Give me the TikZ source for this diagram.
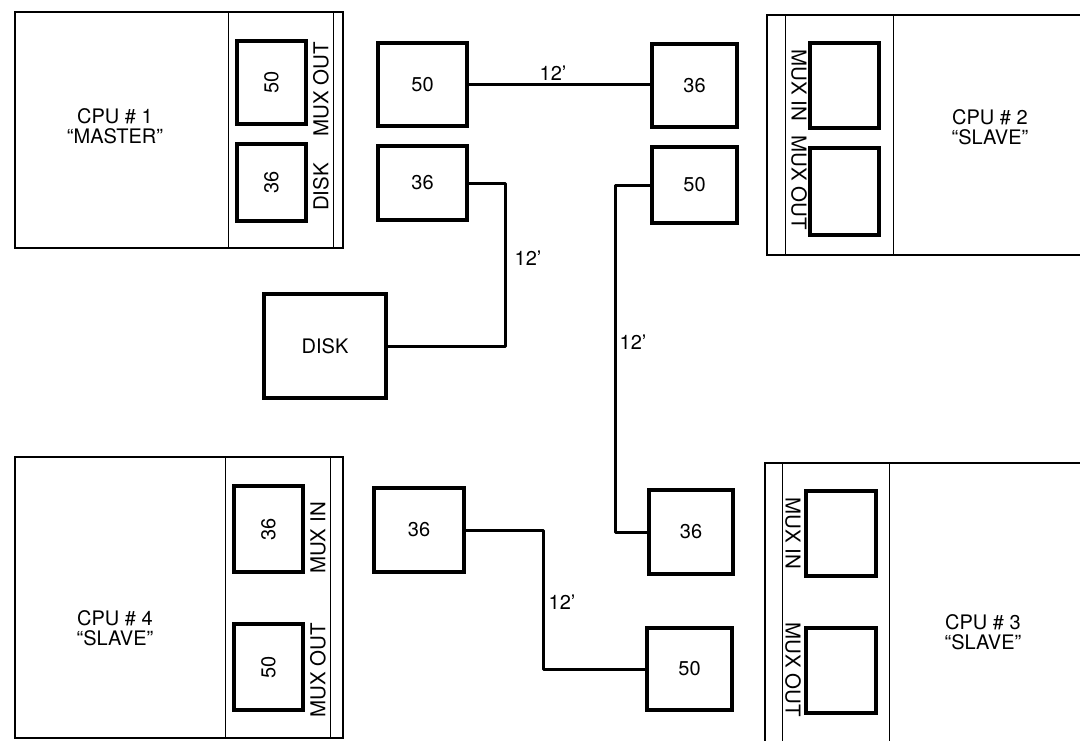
\documentclass[tikz,border=0pt]{standalone}
\usepackage{fontspec}
\setmainfont{TeX Gyre Heros}
\begin{document}
\begin{tikzpicture}[x=1pt,y=-1pt,
  every node/.style={font=\fontsize{20}{20}\selectfont, inner sep=0pt, outer sep=0pt},
  cpu/.style={draw, line width=2.4pt},
  divider/.style={line width=0.8pt},
  port/.style={draw, line width=3.4pt},
  wire/.style={line width=3pt, line join=round},
  cputext/.style={align=center, font=\fontsize{20}{20.5}\selectfont},
  plabel/.style={font=\fontsize{20.5}{20}\selectfont}]
\useasboundingbox (0,0) rectangle (1080,740);
\clip (0,0) rectangle (1080,740);

% ---------- CPU 1 ----------
\node[cpu, minimum width=328, minimum height=236] (cpu1) at (179,130) {};
\draw[divider] (228,12) -- (228,248);
\draw[divider] (333,12) -- (333,248);
\node[cputext] (t1) at (115,126) {CPU \# 1\\“MASTER”};
\node[port, minimum width=69, minimum height=83] (p1a) at (271.5,82.5) {};
\node[port, minimum width=69, minimum height=77] (p1b) at (271.5,182.5) {};
\node[rotate=90] (n1a) at (p1a) {50};
\node[rotate=90] (n1b) at (p1b) {36};
\node[plabel, rotate=90] (l1a) at (321,89) {MUX OUT};
\node[plabel, rotate=90] (l1b) at (321,187) {DISK};

% ---------- CPU 2 ----------
\node[cpu, minimum width=333, minimum height=240] (cpu2) at (933.5,135) {};
\draw[divider] (785,15) -- (785,255);
\draw[divider] (893,15) -- (893,255);
\node[cputext] (t2) at (990,127) {CPU \# 2\\“SLAVE”};
\node[port, minimum width=69, minimum height=85] (p2a) at (844.5,85.5) {};
\node[port, minimum width=69, minimum height=87] (p2b) at (844.5,191.5) {};
\node[plabel, rotate=-90] (l2a) at (799,85) {MUX IN};
\node[plabel, rotate=-90] (l2b) at (799,183) {MUX OUT};

% ---------- CPU 3 ----------
\node[cpu, minimum width=335, minimum height=297] (cpu3) at (932.5,611.5) {};
\draw[divider] (782,463) -- (782,760);
\draw[divider] (889,463) -- (889,760);
\node[cputext] (t3) at (983,632) {CPU \# 3\\“SLAVE”};
\node[port, minimum width=70, minimum height=85] (p3a) at (841,533.5) {};
\node[port, minimum width=70, minimum height=85] (p3b) at (841,670.5) {};
\node[plabel, rotate=-90] (l3a) at (793,533) {MUX IN};
\node[plabel, rotate=-90] (l3b) at (793,670) {MUX OUT};

% ---------- CPU 4 ----------
\node[cpu, minimum width=328, minimum height=281] (cpu4) at (179,597.5) {};
\draw[divider] (225,457) -- (225,738);
\draw[divider] (330,457) -- (330,738);
\node[cputext] (t4) at (115,628) {CPU \# 4\\“SLAVE”};
\node[port, minimum width=69, minimum height=86] (p4a) at (268.5,529) {};
\node[port, minimum width=69, minimum height=86] (p4b) at (268.5,667) {};
\node[rotate=90] (n4a) at (p4a) {36};
\node[rotate=90] (n4b) at (p4b) {50};
\node[plabel, rotate=90] (l4a) at (318,538) {MUX IN};
\node[plabel, rotate=90] (l4b) at (318,670) {MUX OUT};

% ---------- middle connectors ----------
\node[port, minimum width=89, minimum height=83] (m50) at (422.5,84.5) {50};
\node[port, minimum width=89, minimum height=74] (m36) at (422.5,183) {36};
\node[port, minimum width=85, minimum height=83] (r36) at (694.5,85.5) {36};
\node[port, minimum width=85, minimum height=76] (r50) at (694.5,185) {50};
\node[port, minimum width=122, minimum height=104] (disk) at (325,346) {DISK};
\node[port, minimum width=90, minimum height=84] (b36) at (419,530) {36};
\node[port, minimum width=84, minimum height=84] (l36) at (691,532) {36};
\node[port, minimum width=85, minimum height=82] (l50) at (689.5,669) {50};

\coordinate (j1) at (505,0);
\coordinate (j2) at (615,0);
\coordinate (j3) at (543,0);

\draw[wire] (m50.east) -- (m50.east -| r36.west);
\draw[wire] (m36.east) -- (m36.east -| j1) |- (disk.east);
\draw[wire] (r50.west) -- (r50.west -| j2) |- (l36.west);
\draw[wire] (b36.east) -- (b36.east -| j3) |- (l50.west);

\node (c1) at (553,73) {12’};
\node (c2) at (528,258) {12’};
\node (c3) at (633,342) {12’};
\node (c4) at (562,602) {12’};
\end{tikzpicture}
\end{document}
